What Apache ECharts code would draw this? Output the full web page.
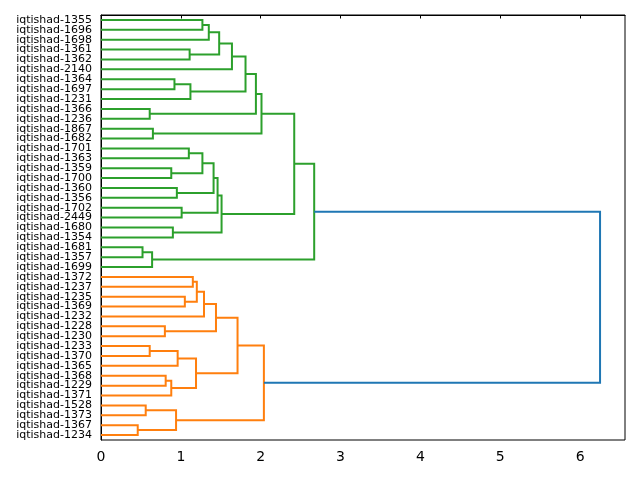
<!DOCTYPE html>
<html>
<head>
<meta charset="utf-8">
<script src="https://cdn.jsdelivr.net/npm/echarts@6/dist/echarts.min.js"></script>
<style>
  html, body { margin: 0; padding: 0; background: #fff; }
  #chart { width: 640px; height: 480px; }
</style>
</head>
<body>
<div id="chart"></div>
<script>
// leaf labels, top to bottom
const leaves = [
  'iqtishad-1355', 'iqtishad-1696', 'iqtishad-1698', 'iqtishad-1361', 'iqtishad-1362',
  'iqtishad-2140', 'iqtishad-1364', 'iqtishad-1697', 'iqtishad-1231', 'iqtishad-1366',
  'iqtishad-1236', 'iqtishad-1867', 'iqtishad-1682', 'iqtishad-1701', 'iqtishad-1363',
  'iqtishad-1359', 'iqtishad-1700', 'iqtishad-1360', 'iqtishad-1356', 'iqtishad-1702',
  'iqtishad-2449', 'iqtishad-1680', 'iqtishad-1354', 'iqtishad-1681', 'iqtishad-1357',
  'iqtishad-1699', 'iqtishad-1372', 'iqtishad-1237', 'iqtishad-1235', 'iqtishad-1369',
  'iqtishad-1232', 'iqtishad-1228', 'iqtishad-1230', 'iqtishad-1233', 'iqtishad-1370',
  'iqtishad-1365', 'iqtishad-1368', 'iqtishad-1229', 'iqtishad-1371', 'iqtishad-1528',
  'iqtishad-1373', 'iqtishad-1367', 'iqtishad-1234'
];

// linkage rows like scipy: [child a, child b, distance]
// ids < 43 are leaves, id 43+r is the cluster made in row r
const linkA = [0, 43, 3, 44, 46, 6, 48, 47, 9, 50, 11, 52, 13, 15, 55, 17, 57, 19, 59, 21, 61,
               54, 23, 65, 64, 26, 28, 68, 70, 31, 71, 33, 74, 36, 76, 75, 73, 39, 41, 80, 79, 67];
const linkB = [1, 2, 4, 45, 5, 7, 8, 49, 10, 51, 12, 53, 14, 16, 56, 18, 58, 20, 60, 22, 62,
               63, 24, 25, 66, 27, 29, 69, 30, 32, 72, 34, 35, 37, 38, 77, 78, 40, 42, 81, 82, 83];
const linkDist = [1.27, 1.35, 1.11, 1.48, 1.64, 0.92, 1.12, 1.81, 0.61, 1.94, 0.65, 2.01, 1.10,
                  0.88, 1.27, 0.95, 1.41, 1.01, 1.46, 0.90, 1.51, 2.42, 0.52, 0.64, 2.67, 1.15,
                  1.05, 1.20, 1.29, 0.80, 1.44, 0.61, 0.96, 0.81, 0.88, 1.19, 1.71, 0.56, 0.46,
                  0.94, 2.04, 6.25];

const xTicks = [0, 1, 2, 3, 4, 5, 6];
const colors = ['#2ca02c', '#ff7f0e', '#1f77b4'];

const n = leaves.length;
// position + height of every node
const pos = [], hgt = [];
for (let i = 0; i < n; i++) { pos.push(10 * i + 5); hgt.push(0); }
for (let r = 0; r < linkDist.length; r++) {
  pos.push((pos[linkA[r]] + pos[linkB[r]]) / 2);
  hgt.push(linkDist[r]);
}
// colour of each link: which child of the root it hangs under
const rootRow = linkDist.length - 1;
const linkColor = new Array(linkDist.length).fill(colors[2]);
function paint(id, c) {
  if (id < n) return;
  linkColor[id - n] = c;
  paint(linkA[id - n], c);
  paint(linkB[id - n], c);
}
paint(linkA[rootRow], colors[0]);
paint(linkB[rootRow], colors[1]);

const linkData = linkDist.map((d, r) => [d, pos[n + r], r]);

const chart = echarts.init(document.getElementById('chart'));
chart.setOption({
  animation: false,
  grid: { left: 101, right: 15, top: 15, bottom: 40, show: true, borderColor: '#000', borderWidth: 1 },
  xAxis: {
    type: 'value', min: 0, max: 6.25 * 1.05, interval: 1,
    splitLine: { show: false },
    axisLine: { lineStyle: { color: '#000' } },
    axisTick: { show: true, length: 3.5, lineStyle: { color: '#000' } },
    axisLabel: {
      color: '#000', fontSize: 14, margin: 10, fontFamily: 'DejaVu Sans',
      showMaxLabel: false,
      formatter: v => xTicks.indexOf(v) >= 0 ? String(v) : ''
    }
  },
  yAxis: [{
    type: 'category', data: leaves, inverse: true,
    axisLine: { lineStyle: { color: '#000' } },
    axisTick: { show: false },
    splitLine: { show: false },
    axisLabel: { color: '#000', fontSize: 11, margin: 9, fontFamily: 'DejaVu Sans', interval: 0 }
  }, {
    type: 'value', min: 0, max: 10 * n, inverse: true, show: false,
    splitLine: { show: false }
  }],
  series: [{
    type: 'custom',
    xAxisIndex: 0, yAxisIndex: 1,
    data: linkData,
    encode: { x: 0, y: 1 },
    renderItem: function (params, api) {
      const r = api.value(2);
      const a = linkA[r], b = linkB[r];
      const pts = [
        api.coord([hgt[a], pos[a]]),
        api.coord([linkDist[r], pos[a]]),
        api.coord([linkDist[r], pos[b]]),
        api.coord([hgt[b], pos[b]])
      ];
      return {
        type: 'polyline',
        shape: { points: pts },
        style: { stroke: linkColor[r], lineWidth: 2, fill: null }
      };
    }
  }]
});
</script>
</body>
</html>
